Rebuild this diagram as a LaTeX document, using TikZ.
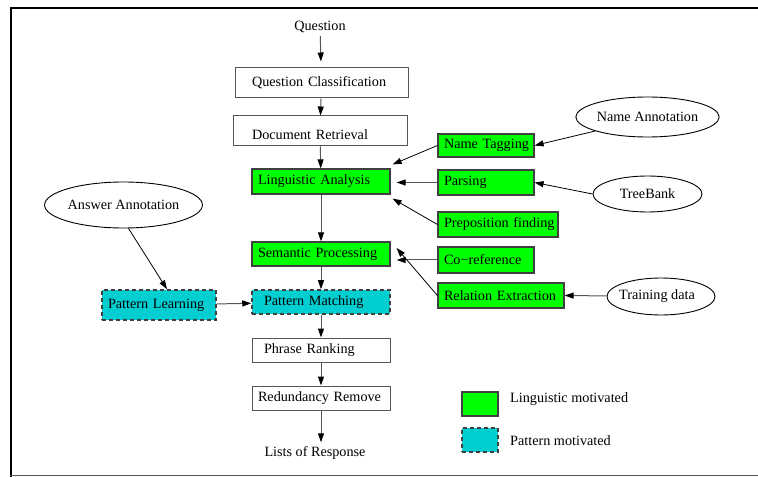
\documentclass[tikz,border=0pt]{standalone}
\usepackage{fontspec}
\setmainfont{Liberation Serif}
\usetikzlibrary{shapes.geometric,arrows.meta}
\definecolor{gfill}{RGB}{0,255,0}
\definecolor{cfill}{RGB}{0,206,209}
\definecolor{edge}{RGB}{85,85,85}
\definecolor{bord}{RGB}{64,64,64}
\begin{document}
\begin{tikzpicture}[x=1bp,y=-1bp,
  font=\fontsize{14.2bp}{17bp}\selectfont,
  every node/.style={inner ysep=0pt},
  plainbox/.style={draw=edge,line width=1bp,fill=white},
  lingbox/.style={draw=bord,line width=1.2bp,fill=gfill},
  patbox/.style={draw=bord,line width=1.5bp,dash pattern=on 4bp off 3bp,fill=cfill},
  oval/.style={draw=black,line width=0.9bp,ellipse,inner sep=0pt},
  txt/.style={inner sep=0pt},
  conn/.style={draw=edge,line width=1bp,-{Triangle[length=9bp,width=6bp,color=black]}},
  thinconn/.style={draw=black,line width=0.8bp,-{Triangle[length=9bp,width=6bp,color=black]}}]
\useasboundingbox (0,0) rectangle (758,477);
% frame
\draw[line width=2.6bp] (10,8) -- (758,8);
\draw[line width=2.6bp] (11,6.7) -- (11,477);
\draw[edge,line width=1bp] (10,475.5) -- (758,475.5);

% main column
\node[txt] (q) at (320,27) {Question};
\node[plainbox,minimum width=173bp,minimum height=30bp,inner xsep=17bp,text width=139bp] (qc) at (321.5,83) {\mbox{Question Classification}};
\node[plainbox,minimum width=174bp,minimum height=30bp,inner xsep=19bp,text width=136bp] (dr) at (320,131) {\raisebox{-3.5bp}[\height][\depth]{\mbox{Document Retrieval}}};
\node[lingbox,minimum width=138bp,minimum height=25bp,inner xsep=6bp,text width=126bp] (la) at (321,181.5) {\mbox{Linguistic Analysis}};
\node[lingbox,minimum width=138bp,minimum height=24bp,inner xsep=6bp,text width=126bp] (sp) at (321,254) {\mbox{Semantic Processing}};
\node[patbox,minimum width=138bp,minimum height=24bp,inner xsep=12bp,text width=114bp] (pm) at (321,302) {\mbox{Pattern Matching}};
\node[plainbox,minimum width=138bp,minimum height=24bp,inner xsep=12bp,text width=114bp] (pr) at (321,350) {\mbox{Phrase Ranking}};
\node[plainbox,minimum width=138bp,minimum height=24bp,inner xsep=6bp,text width=126bp] (rr) at (321,398) {\mbox{Redundancy Remove}};
\node[txt] (lr) at (315,453) {Lists of Response};

% side boxes
\node[lingbox,minimum width=96bp,minimum height=23bp,inner xsep=6bp,text width=84bp] (nt) at (486,145.5) {\mbox{Name Tagging}};
\node[lingbox,minimum width=96bp,minimum height=25bp,inner xsep=6bp,text width=84bp] (pa) at (486,182.5) {\mbox{Parsing}};
\node[lingbox,minimum width=120bp,minimum height=25bp,inner xsep=6bp,text width=108bp] (pf) at (498,224.5) {\mbox{Preposition finding}};
\node[lingbox,minimum width=96bp,minimum height=26bp,inner xsep=6bp,text width=84bp] (co) at (486,260) {\mbox{Co−reference}};
\node[lingbox,minimum width=126bp,minimum height=25bp,inner xsep=6bp,text width=114bp] (re) at (501,295.5) {\mbox{Relation Extraction}};
\node[patbox,minimum width=114bp,minimum height=30bp,inner xsep=6bp,text width=102bp] (pl) at (159,305) {\mbox{Pattern Learning}};

% ellipses
\node[oval,minimum width=127bp,minimum height=40bp] (na) at (647.5,117) {Name Annotation};
\node[oval,minimum width=109bp,minimum height=36bp] (tb) at (647.5,194) {TreeBank};
\node[oval,minimum width=108bp,minimum height=37bp] (td) at (661,296.5) {\hspace*{-8bp}Training data};
\node[oval,minimum width=139bp,minimum height=46bp] (aa) at (123.5,205) {Answer Annotation};

% legend
\node[lingbox,minimum width=36bp,minimum height=24bp,inner sep=0pt] (lg) at (480,404) {};
\node[txt,anchor=west] (lgt) at (510,399) {Linguistic motivated};
\node[patbox,minimum width=36bp,minimum height=24bp,inner sep=0pt] (lp) at (480,440) {};
\node[txt,anchor=west] (lpt) at (510,441) {Pattern motivated};

% main flow
\draw[conn,shorten <=3bp,shorten >=6bp] (q) -- (qc);
\draw[conn] (qc) -- (dr);
\draw[conn] (dr) -- (la);
\draw[conn] (la) -- (sp);
\draw[conn] (sp) -- (pm);
\draw[conn] (pm) -- (pr);
\draw[conn] (pr) -- (rr);
\draw[conn,shorten >=4bp] (rr.south) -- (rr.south |- lr.north);

% side connectors
\draw[thinconn] (nt.west) -- ([xshift=2bp,yshift=4bp]la.north east);
\draw[conn,shorten >=6bp] (pa.west) -- (la.east |- pa.west);
\draw[thinconn] (pf.west) -- ([xshift=2bp,yshift=-4bp]la.south east);
\draw[thinconn] (na.195) -- (nt.east);
\draw[thinconn] (tb.west) -- (pa.east);
\draw[conn,shorten >=6bp] (co.west) -- (sp.east |- co.west);
\draw[thinconn] (re.west) -- ([xshift=6bp,yshift=6bp]sp.east);
\draw[conn] (td) -- (re.east);
\draw[thinconn] (aa.-78) -- ([xshift=8bp]pl.north);
\draw[conn] (pl) -- (pm);
\end{tikzpicture}
\end{document}
